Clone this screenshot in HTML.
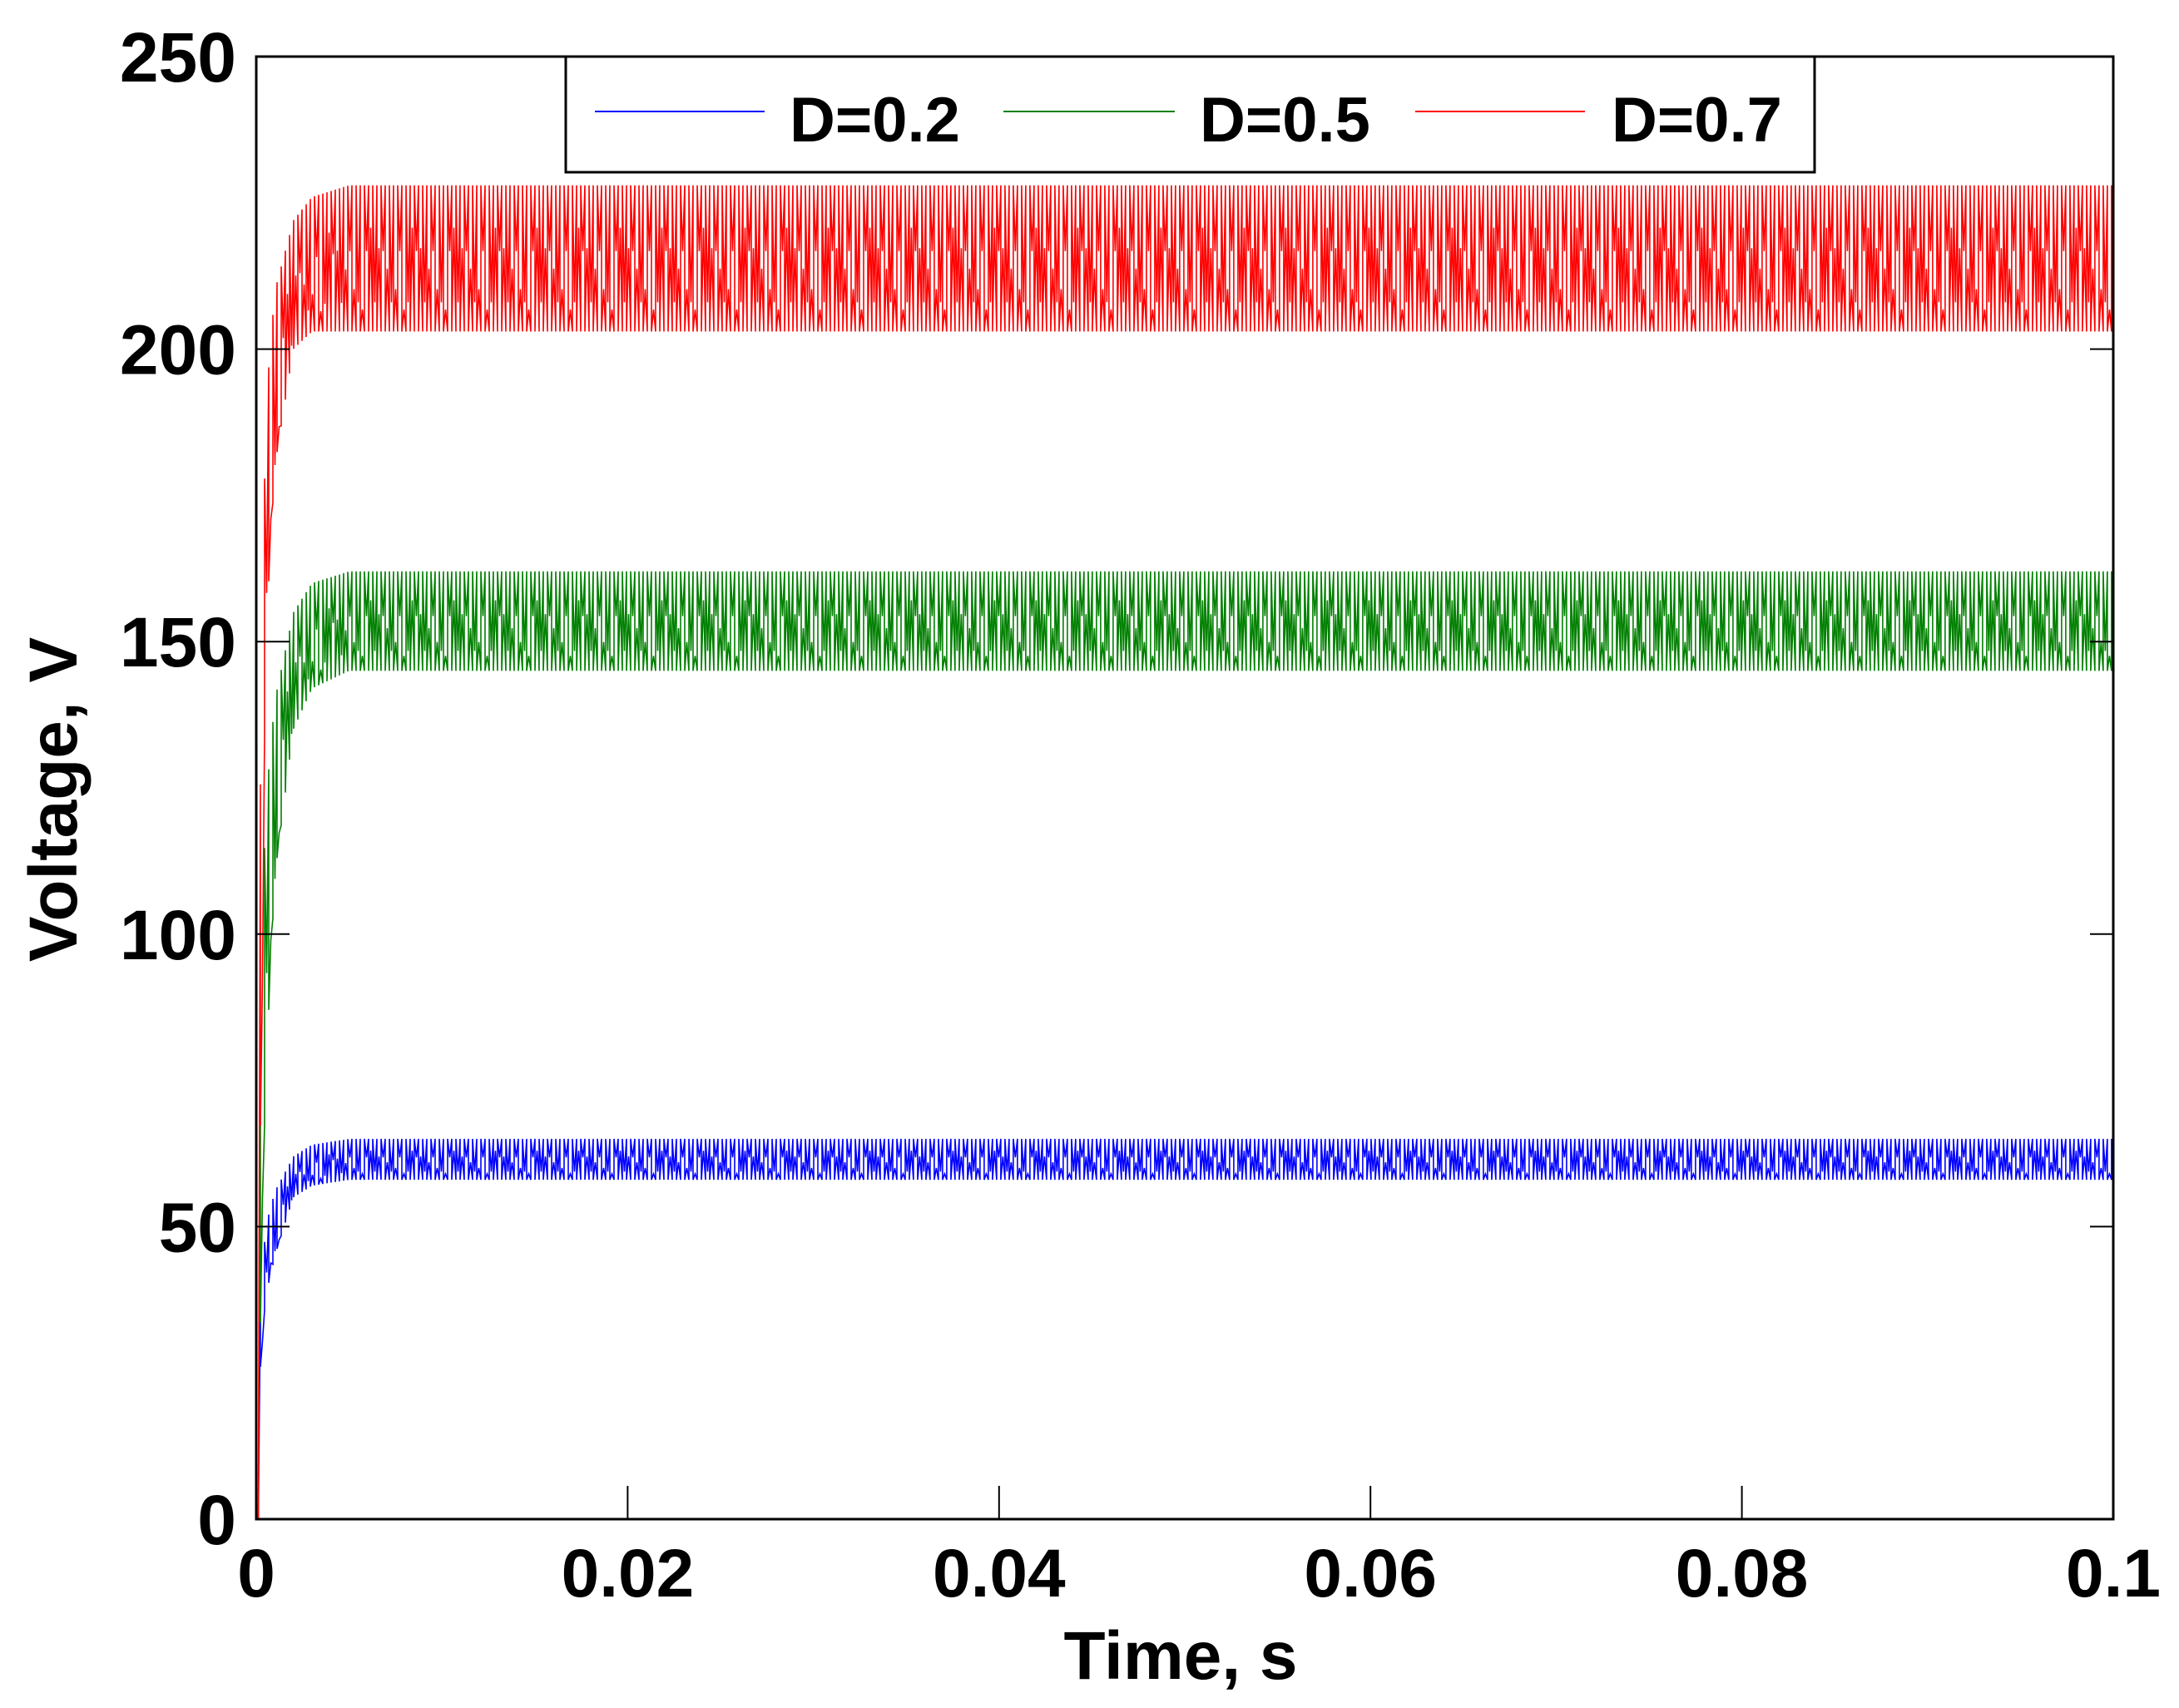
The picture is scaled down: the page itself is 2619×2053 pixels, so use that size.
<!DOCTYPE html>
<html><head><meta charset="utf-8"><style>
html,body{margin:0;padding:0;background:#fff;}
svg text{font-family:"Liberation Sans",Arial,sans-serif;font-weight:bold;}
</style></head><body>
<svg id="chart" width="2619" height="2048" viewBox="0 0 2619 2048" xmlns="http://www.w3.org/2000/svg">
<rect x="0" y="0" width="2619" height="2048" fill="#fff"/>
<g id="series"></g>
<rect x="308" y="68" width="2232" height="1758" fill="none" stroke="#000" stroke-width="3"/>
<g id="ticks"></g>
<text x="1419" y="2018" font-size="82" text-anchor="middle">Time, s</text>
<text transform="translate(92,961) rotate(-90)" font-size="82" text-anchor="middle">Voltage, V</text>
<g>
<rect x="680" y="68" width="1501" height="139" fill="#fff" stroke="#000" stroke-width="3"/>
<line x1="715" y1="134" x2="919" y2="134" stroke="#0000ff" stroke-width="2"/>
<text x="949" y="170" font-size="76">D=0.2</text>
<line x1="1206" y1="134" x2="1412" y2="134" stroke="#008000" stroke-width="2"/>
<text x="1442" y="170" font-size="76">D=0.5</text>
<line x1="1701" y1="134" x2="1905" y2="134" stroke="#ff0000" stroke-width="2"/>
<text x="1937" y="170" font-size="76">D=0.7</text>
</g>
</svg>
<script>
const xTicks = [0, 0.02, 0.04, 0.06, 0.08, 0.1];
const xTickLabels = ["0", "0.02", "0.04", "0.06", "0.08", "0.1"];
const yTicks = [0, 50, 100, 150, 200, 250];
const yTickLabels = ["0", "50", "100", "150", "200", "250"];
const seriesNames = ["D=0.2", "D=0.5", "D=0.7"];
const seriesColors = ["#0000ff", "#008000", "#ff0000"];
// envelope sample times (s)
const envTimes = [0, 0.0002, 0.0005, 0.001, 0.002, 0.003, 0.005, 0.01, 0.1];
// upper and lower envelope of the switching ripple, per series (V)
const hiD02 = [0, 35, 50, 56, 62, 64, 65, 65, 65];
const loD02 = [0, 25, 38, 45, 55, 57, 58, 58, 58];
const hiD05 = [0, 80, 122, 140, 155, 160, 162, 162, 162];
const loD05 = [0, 30, 75, 110, 135, 142, 145, 145, 145];
const hiD07 = [0, 120, 190, 210, 222, 226, 228, 228, 228];
const loD07 = [0, 60, 150, 180, 200, 203, 203, 203, 203];
const switchPeriod = 0.000224;

const X0 = 308, X1 = 2540, Y0 = 1826, Y1 = 68;
function xs(t){ return X0 + (t - 0) / (0.1 - 0) * (X1 - X0); }
function ys(v){ return Y0 - (v - 0) / (250 - 0) * (Y0 - Y1); }
function interp(arr, t){
  for (let i = 1; i < envTimes.length; i++) {
    if (t <= envTimes[i]) {
      const f = (t - envTimes[i-1]) / (envTimes[i] - envTimes[i-1]);
      return arr[i-1] + f * (arr[i] - arr[i-1]);
    }
  }
  return arr[arr.length - 1];
}
const NS = "http://www.w3.org/2000/svg";
const sg = document.getElementById("series");
const his = [hiD02, hiD05, hiD07], los = [loD02, loD05, loD07];
const ids = ["d02", "d05", "d07"];
for (let s = 0; s < 3; s++) {
  const pts = [];
  let k = 0;
  for (let t = 0; t <= 0.1 + 1e-9; t += switchPeriod, k++) {
    const hi = interp(his[s], t), lo = interp(los[s], t);
    const j = ((k * 7) % 5) / 5;
    const j2 = ((k * 3) % 4) / 4;
    const mid = lo + (hi - lo) * (0.15 + 0.7 * j);
    const mid2 = lo + (hi - lo) * (0.2 + 0.7 * j2);
    const x = xs(t), xn = xs(t + switchPeriod * 0.5);
    if (k % 2 === 0) { pts.push([x, ys(lo)], [x, ys(hi)], [xn, ys(mid2)]); }
    else { pts.push([x, ys(hi)], [x, ys(lo)], [xn, ys(mid)]); }
  }
  const pl = document.createElementNS(NS, "polyline");
  pl.setAttribute("points", pts.map(p => p[0].toFixed(1) + "," + p[1].toFixed(1)).join(" "));
  pl.setAttribute("fill", "none");
  pl.setAttribute("stroke", seriesColors[s]);
  pl.setAttribute("stroke-width", "1.6");
  
  
  sg.appendChild(pl);
}
const tg = document.getElementById("ticks");
xTicks.forEach((v, i) => {
  const x = xs(v);
  const l = document.createElementNS(NS, "line");
  l.setAttribute("x1", x); l.setAttribute("x2", x);
  l.setAttribute("y1", Y0); l.setAttribute("y2", Y0 - 40);
  l.setAttribute("stroke", "#000"); l.setAttribute("stroke-width", "2");
  
  
  tg.appendChild(l);
  const tx = document.createElementNS(NS, "text");
  tx.setAttribute("x", x); tx.setAttribute("y", 1919);
  tx.setAttribute("font-size", "82"); tx.setAttribute("text-anchor", "middle");
  tx.textContent = xTickLabels[i];
  
  
  tg.appendChild(tx);
});
yTicks.forEach((v, i) => {
  const y = ys(v);
  [[X0, X0 + 40], [X1, X1 - 28]].forEach(p => {
    const l = document.createElementNS(NS, "line");
    l.setAttribute("x1", p[0]); l.setAttribute("x2", p[1]);
    l.setAttribute("y1", y); l.setAttribute("y2", y);
    l.setAttribute("stroke", "#000"); l.setAttribute("stroke-width", "2");
    
    
    tg.appendChild(l);
  });
  const tx = document.createElementNS(NS, "text");
  tx.setAttribute("x", 284); tx.setAttribute("y", y + 30);
  tx.setAttribute("font-size", "84"); tx.setAttribute("text-anchor", "end");
  tx.textContent = yTickLabels[i];
  
  
  tg.appendChild(tx);
});
</script>
</body></html>
